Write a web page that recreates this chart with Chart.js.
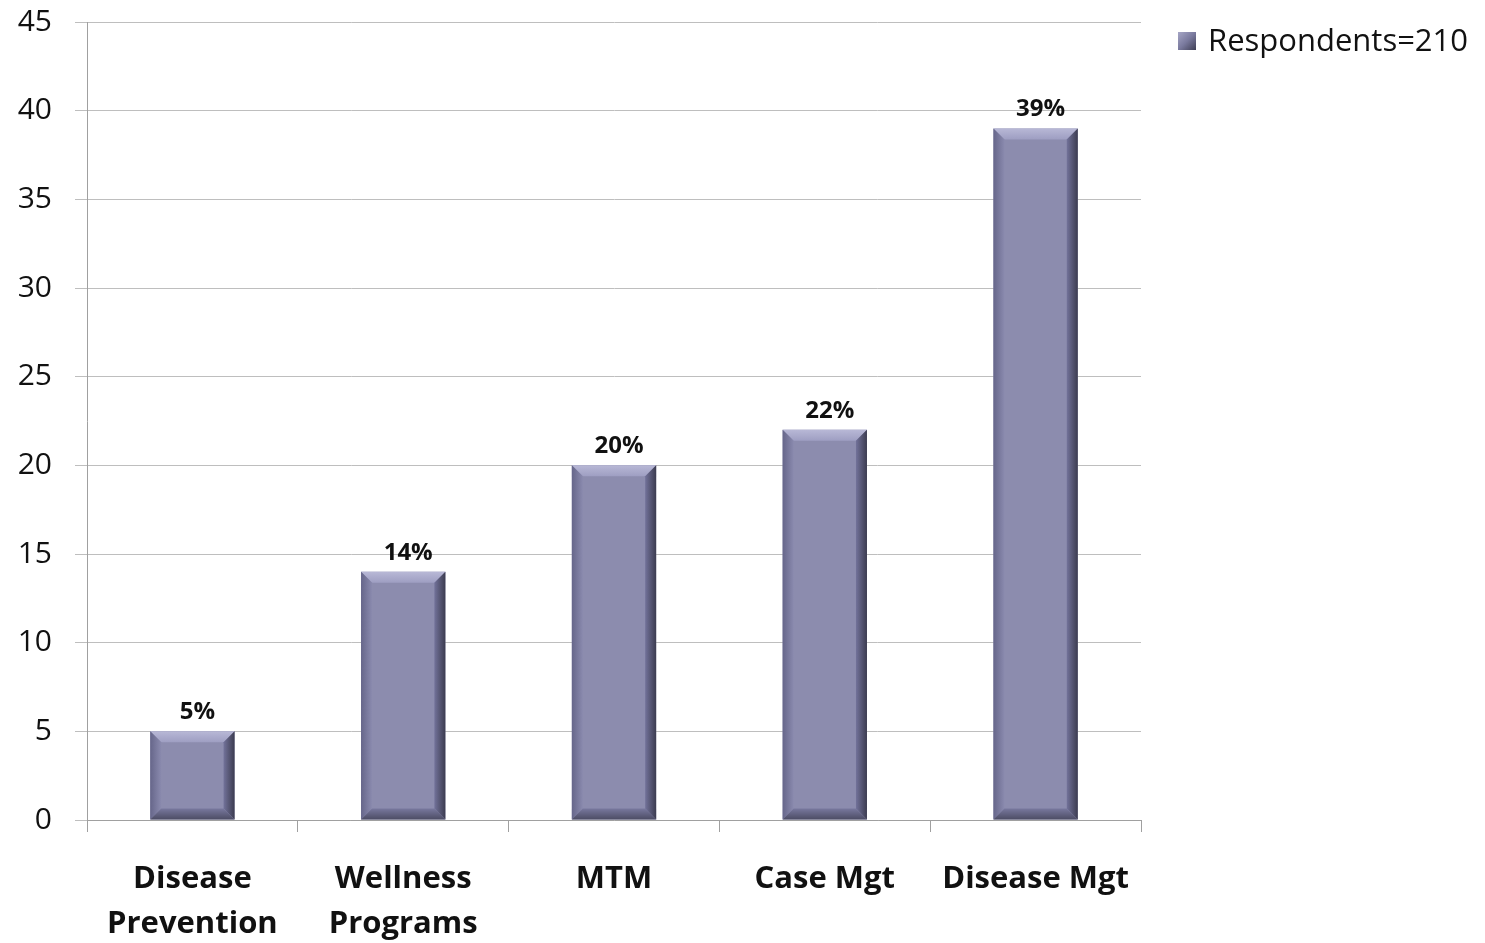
<!DOCTYPE html>
<html>
<head>
<meta charset="utf-8">
<script src="https://cdn.jsdelivr.net/npm/chart.js@4/dist/chart.umd.min.js"></script>
<style>
  html, body { margin: 0; padding: 0; background: #fff; }
  #wrap { width: 1485px; height: 943px; position: relative; }
</style>
</head>
<body>
<div id="wrap"><canvas id="c" width="1485" height="943"></canvas></div>
<script>
// Programs reported by respondents
const categories = [["Disease", "Prevention"], ["Wellness", "Programs"], "MTM", "Case Mgt", "Disease Mgt"];
const respondents = [5, 14, 20, 22, 39];
const valueLabels = ["5%", "14%", "20%", "22%", "39%"];
const seriesName = "Respondents=210";
const yTicks = [0, 5, 10, 15, 20, 25, 30, 35, 40, 45];

const FONT = "'Open Sans', 'Noto Sans', sans-serif";
const BAR = "#8c8cae";

// Bevelled bar faces and value labels drawn over each bar element
const bevelPlugin = {
  id: "bevel",
  afterDatasetsDraw(chart) {
    const ctx = chart.ctx;
    const meta = chart.getDatasetMeta(0);
    meta.data.forEach((bar, i) => {
      const { x, y, base, width } = bar.getProps(["x", "y", "base", "width"], true);
      const l = x - width / 2, r = x + width / 2, t = y, b = base;
      const d = 11;
      ctx.save();
      // top face (light)
      let g = ctx.createLinearGradient(0, t, 0, t + d);
      g.addColorStop(0, "#b8b8d6"); g.addColorStop(1, "#9e9ec2");
      ctx.fillStyle = g;
      ctx.beginPath(); ctx.moveTo(l, t); ctx.lineTo(r, t); ctx.lineTo(r - d, t + d); ctx.lineTo(l + d, t + d); ctx.closePath(); ctx.fill();
      // right face (dark)
      g = ctx.createLinearGradient(r - d, 0, r, 0);
      g.addColorStop(0, "#72729a"); g.addColorStop(1, "#3c3c50");
      ctx.fillStyle = g;
      ctx.beginPath(); ctx.moveTo(r, t); ctx.lineTo(r, b); ctx.lineTo(r - d, b - d); ctx.lineTo(r - d, t + d); ctx.closePath(); ctx.fill();
      // left face
      g = ctx.createLinearGradient(l, 0, l + d, 0);
      g.addColorStop(0, "#66668a"); g.addColorStop(1, "#8a8aae");
      ctx.fillStyle = g;
      ctx.beginPath(); ctx.moveTo(l, t); ctx.lineTo(l + d, t + d); ctx.lineTo(l + d, b - d); ctx.lineTo(l, b); ctx.closePath(); ctx.fill();
      // bottom face
      g = ctx.createLinearGradient(0, b - d, 0, b);
      g.addColorStop(0, "#78789e"); g.addColorStop(1, "#4c4c64");
      ctx.fillStyle = g;
      ctx.beginPath(); ctx.moveTo(l, b); ctx.lineTo(l + d, b - d); ctx.lineTo(r - d, b - d); ctx.lineTo(r, b); ctx.closePath(); ctx.fill();
      // value label
      ctx.fillStyle = "#111";
      ctx.font = "bold 24px " + FONT;
      ctx.textAlign = "center";
      ctx.textBaseline = "bottom";
      ctx.fillText(valueLabels[i], x + 5, t - 7);
      ctx.restore();
    });
  }
};

// Series key in the top-right margin
const keyPlugin = {
  id: "seriesKey",
  afterDraw(chart) {
    const ctx = chart.ctx;
    const x0 = chart.chartArea.right + 37, y0 = 32, s = 18;
    ctx.save();
    const g = ctx.createLinearGradient(x0, y0, x0 + s, y0 + s);
    g.addColorStop(0, "#a6a6c6"); g.addColorStop(0.5, "#7a7a9e"); g.addColorStop(1, "#3e3e54");
    ctx.fillStyle = g;
    ctx.fillRect(x0, y0, s, s);
    ctx.fillStyle = "#111";
    ctx.font = "31px " + FONT;
    ctx.textAlign = "left";
    ctx.textBaseline = "middle";
    ctx.fillText(chart.data.datasets[0].label, x0 + 30, y0 + s / 2 + 1);
    ctx.restore();
  }
};

new Chart(document.getElementById("c"), {
  type: "bar",
  data: {
    labels: categories,
    datasets: [{
      label: seriesName,
      data: respondents,
      backgroundColor: BAR,
      borderWidth: 0,
      barPercentage: 0.8,
      categoryPercentage: 0.5
    }]
  },
  options: {
    responsive: false,
    animation: false,
    layout: { padding: { top: 22, left: 15, right: 344, bottom: 0 } },
    plugins: {
      tooltip: { enabled: false },
      legend: { display: false }
    },
    scales: {
      x: {
        offset: true,
        afterFit(scale) { scale.height = 123; scale.paddingLeft = 0; scale.paddingRight = 0; },
        grid: { display: true, drawOnChartArea: false, offset: true, color: "#a0a0a0", tickLength: 12, lineWidth: 1 },
        border: { display: true, color: "#a0a0a0" },
        ticks: { color: "#111", font: { family: FONT, size: 31, weight: "bold", lineHeight: 1.45 }, padding: 25, maxRotation: 0, autoSkip: false }
      },
      y: {
        min: 0, max: 45,
        afterBuildTicks(axis) { axis.ticks = yTicks.map(v => ({ value: v })); },
        afterFit(scale) { scale.width = 72; scale.paddingTop = 0; scale.paddingBottom = 0; },
        grid: { color: "#bebebe", tickLength: 12, lineWidth: 1 },
        border: { display: true, color: "#a0a0a0" },
        ticks: { color: "#111", font: { family: FONT, size: 30 }, padding: 23 }
      }
    }
  },
  plugins: [bevelPlugin, keyPlugin]
});
</script>
</body>
</html>
